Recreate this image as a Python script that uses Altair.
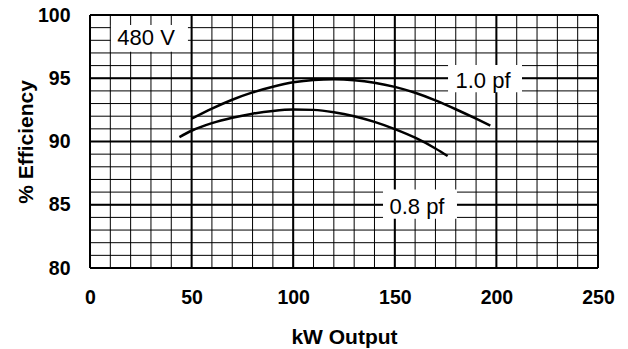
import altair as alt
import pandas as pd

# Curve data
kw_10pf = [50, 60, 70, 80, 90, 100, 110, 120, 130, 140, 150, 160, 170, 180, 190, 197]
eff_10pf = [91.8, 92.6, 93.3, 93.88, 94.33, 94.68, 94.87, 94.92, 94.85, 94.65, 94.32, 93.85, 93.25, 92.55, 91.8, 91.25]
kw_08pf = [44, 50, 60, 70, 80, 90, 100, 110, 120, 130, 140, 150, 160, 170, 176]
eff_08pf = [90.35, 90.85, 91.45, 91.88, 92.2, 92.42, 92.53, 92.5, 92.32, 92.0, 91.55, 90.98, 90.3, 89.45, 88.85]

# Axis ticks and grid
x_ticks = [0, 50, 100, 150, 200, 250]
y_ticks = [80, 85, 90, 95, 100]
x_minor = list(range(0, 251, 10))
y_minor = list(range(80, 101, 1))

# Annotation labels (data coordinates)
labels = ["480 V", "1.0 pf", "0.8 pf"]
label_x = [27.6, 193.4, 160.9]
label_y = [98.2, 94.8, 84.8]
box_x1 = [10.3, 176.2, 144.2]
box_x2 = [48.2, 212.6, 180.6]
box_y1 = [97.1, 93.9, 83.9]
box_y2 = [99.2, 96.05, 86.2]

FONT = "Liberation Sans"

curves = pd.DataFrame({
    "kw": kw_10pf + kw_08pf,
    "eff": eff_10pf + eff_08pf,
    "pf": ["1.0"] * len(kw_10pf) + ["0.8"] * len(kw_08pf),
})
ann = pd.DataFrame({"label": labels, "x": label_x, "y": label_y,
                    "x1": box_x1, "x2": box_x2, "y1": box_y1, "y2": box_y2})

xs = alt.Scale(domain=[0, 250], nice=False, zero=False)
ys = alt.Scale(domain=[80, 100], nice=False, zero=False)

x_axis = alt.Axis(values=x_ticks, title="kW Output", grid=False, domain=False,
                  ticks=False, tickSize=0, labelFlush=False, labelFont=FONT,
                  labelFontSize=19.5, labelFontWeight="bold", labelColor="black",
                  labelPadding=35, labelBaseline="alphabetic",
                  titleFont=FONT, titleFontSize=21, titleFontWeight="bold",
                  titleColor="black", titleX=254, titleY=75,
                  titleBaseline="alphabetic", titleAlign="center")
y_axis = alt.Axis(values=y_ticks, title="% Efficiency", grid=False, domain=False,
                  ticks=False, tickSize=0, labelFlush=False, labelFont=FONT,
                  labelFontSize=19.5, labelFontWeight="bold", labelColor="black",
                  labelPadding=20, labelBaseline="middle",
                  titleFont=FONT, titleFontSize=21, titleFontWeight="bold",
                  titleColor="black", titleX=-58, titleY=126.5, titleAngle=270,
                  titleBaseline="alphabetic", titleAlign="center")


def X(field):
    return alt.X(field, scale=xs, axis=x_axis)


def Y(field):
    return alt.Y(field, scale=ys, axis=y_axis)


xminor_df = pd.DataFrame({"v": x_minor})
yminor_df = pd.DataFrame({"v": y_minor})
xmajor_df = pd.DataFrame({"v": x_ticks})
ymajor_df = pd.DataFrame({"v": y_ticks})

vminor = alt.Chart(xminor_df).mark_rule(color="black", strokeWidth=1).encode(x=X("v:Q"))
hminor = alt.Chart(yminor_df).mark_rule(color="black", strokeWidth=1).encode(y=Y("v:Q"))
vmajor = alt.Chart(xmajor_df).mark_rule(color="black", strokeWidth=2).encode(x=X("v:Q"))
hmajor = alt.Chart(ymajor_df).mark_rule(color="black", strokeWidth=2).encode(y=Y("v:Q"))

boxes = alt.Chart(ann).mark_rect(color="white").encode(
    x=X("x1:Q"), x2="x2:Q", y=Y("y1:Q"), y2="y2:Q")

texts = alt.Chart(ann).mark_text(font=FONT, fontSize=22, color="black",
                                 align="center", baseline="middle").encode(
    x=X("x:Q"), y=Y("y:Q"), text="label:N")

lines = alt.Chart(curves).mark_line(color="black", strokeWidth=2.5,
                                    interpolate="monotone").encode(
    x=X("kw:Q"), y=Y("eff:Q"), detail="pf:N")

chart = alt.layer(vminor, hminor, vmajor, hmajor, boxes, texts, lines).properties(
    width=508, height=253,
    autosize=alt.AutoSizeParams(type="none"),
    padding={"left": 82, "top": 7, "right": 22, "bottom": 80},
).configure_view(stroke=None)

chart.save("out.html", embed_options={"renderer": "svg", "actions": False})
